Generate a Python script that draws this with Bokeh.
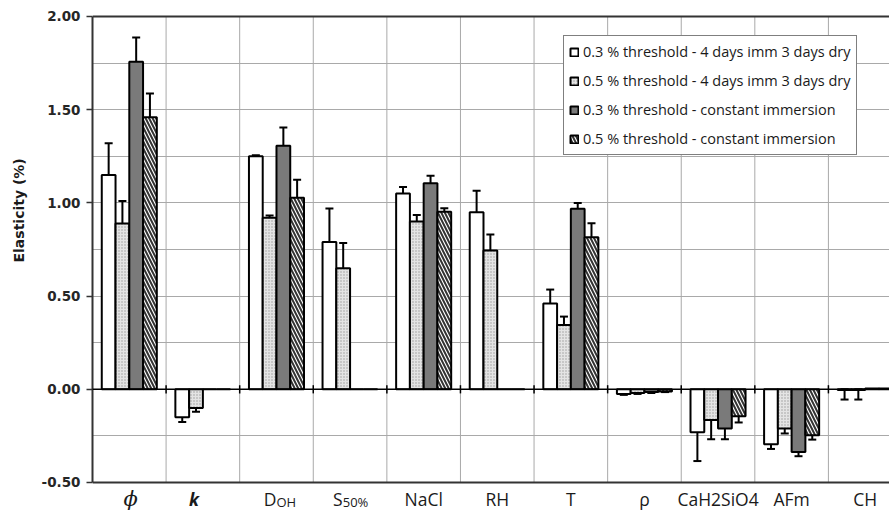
import math
import numpy as np
from bokeh.plotting import figure
from bokeh.models import (ColumnDataSource, Range1d, FixedTicker, Whisker, TeeHead,
                          Legend, LegendItem, Label, Span, NumeralTickFormatter, Title)
from bokeh.embed import file_html
from bokeh.resources import INLINE

NaN = float("nan")

# ---- data ----
cat_main = ["ϕ", "k", "D", "S", "NaCl", "RH", "T", "ρ", "CaH2SiO4", "AFm", "CH"]
cat_sub = ["", "", "OH", "50%", "", "", "", "", "", "", ""]

series_names = [
    "0.3 % threshold - 4 days imm 3 days dry",
    "0.5 % threshold - 4 days imm 3 days dry",
    "0.3 % threshold - constant immersion",
    "0.5 % threshold - constant immersion",
]

s1_val = [1.15, -0.15, 1.25, 0.79, 1.05, 0.95, 0.46, -0.025, -0.23, -0.295, -0.004]
s1_lo = [1.04, -0.175, 1.245, 0.535, 0.945, 0.785, 0.40, -0.03, -0.385, -0.32, -0.055]
s1_hi = [1.32, -0.12, 1.255, 0.97, 1.085, 1.065, 0.535, -0.02, -0.22, -0.265, 0.0]

s2_val = [0.89, -0.10, 0.92, 0.65, 0.90, 0.745, 0.345, -0.02, -0.165, -0.21, -0.004]
s2_lo = [0.815, -0.12, 0.905, 0.44, 0.80, 0.625, 0.29, -0.025, -0.268, -0.237, -0.055]
s2_hi = [1.01, -0.07, 0.932, 0.785, 0.935, 0.83, 0.39, -0.015, -0.148, -0.166, 0.0]

s3_val = [1.757, 0.0, 1.307, 0.0, 1.105, 0.0, 0.968, -0.015, -0.21, -0.336, 0.004]
s3_lo = [1.605, NaN, 1.19, NaN, 1.062, NaN, 0.864, -0.02, -0.268, -0.359, NaN]
s3_hi = [1.887, NaN, 1.405, NaN, 1.146, NaN, 1.0, -0.01, -0.063, -0.273, NaN]

s4_val = [1.459, 0.0, 1.027, 0.0, 0.953, 0.0, 0.816, -0.012, -0.144, -0.246, 0.004]
s4_lo = [1.312, NaN, 0.902, NaN, 0.914, NaN, 0.686, -0.015, -0.178, -0.27, NaN]
s4_hi = [1.587, NaN, 1.124, NaN, 0.971, NaN, 0.891, -0.008, -0.02, -0.184, NaN]

y_ticks = [-0.5, 0.0, 0.5, 1.0, 1.5, 2.0]
y_min, y_max = -0.5, 2.0

vals = [s1_val, s2_val, s3_val, s4_val]
los = [s1_lo, s2_lo, s3_lo, s4_lo]
his = [s1_hi, s2_hi, s3_hi, s4_hi]

# ---- figure ----
n = len(cat_main)
p = figure(width=889, height=512, x_range=Range1d(0, 10.83), y_range=Range1d(-0.661, 2.0107),
           output_backend="svg", toolbar_location=None,
           min_border_left=92, min_border_right=0, min_border_top=14, min_border_bottom=0,
           background_fill_color="white", border_fill_color="white",
           outline_line_color=None)

p.xaxis.visible = False
p.xgrid.visible = False
p.ygrid.ticker = FixedTicker(ticks=[y_min + 0.25 * i for i in range(11)])
p.ygrid.grid_line_color = "#a9a9a9"
p.ygrid.grid_line_width = 1

# vertical grid lines between categories (limited to the value range)
bounds = list(range(1, n))
p.segment(x0=bounds, y0=[y_min] * len(bounds), x1=bounds, y1=[y_max] * len(bounds),
          line_color="#a9a9a9", line_width=1)

p.yaxis.bounds = (y_min, y_max)
p.yaxis.ticker = FixedTicker(ticks=y_ticks)
p.yaxis.formatter = NumeralTickFormatter(format="0.00")
p.yaxis.minor_tick_line_color = None
p.yaxis.major_tick_in = 0
p.yaxis.major_tick_out = 6
p.yaxis.major_tick_line_color = "#333333"
p.yaxis.major_tick_line_width = 1.5
p.yaxis.axis_line_color = "#333333"
p.yaxis.axis_line_width = 2
p.yaxis.major_label_text_font = "DejaVu Sans"
p.yaxis.major_label_text_font_style = "bold"
p.yaxis.major_label_text_font_size = "13.5px"
p.yaxis.major_label_text_color = "#262626"
p.yaxis.major_label_standoff = 6

# y-axis title (in the left panel, positioned like the original)
p.add_layout(Title(text="Elasticity (%)", align="left", offset=250, standoff=20,
                   vertical_align="top",
                   text_font="DejaVu Sans", text_font_style="bold", text_font_size="14px",
                   text_color="#1a1a1a"), "left")

xc = np.arange(n) + 0.5
bw = 0.187
offs = [-1.5, -0.5, 0.5, 1.5]
styles = [
    dict(fill_color="white"),
    dict(fill_color="#e4e4e4", hatch_pattern="dot", hatch_scale=3, hatch_weight=1, hatch_color="#9a9a9a"),
    dict(fill_color="#7a7a7a"),
    dict(fill_color="white", hatch_pattern="left_diagonal_line", hatch_scale=7, hatch_weight=2,
         hatch_color="#333333"),
]

renderers = []
for k in range(4):
    src = ColumnDataSource(dict(x=xc + offs[k] * bw, top=vals[k], lo=los[k], hi=his[k]))
    r = p.vbar(x="x", top="top", bottom=0, width=bw, source=src,
               line_color="black", line_width=2, **styles[k])
    renderers.append(r)
    p.add_layout(Whisker(source=src, base="x", lower="lo", upper="hi",
                         line_color="black", line_width=2,
                         upper_head=TeeHead(size=8, line_width=2, line_color="black"),
                         lower_head=TeeHead(size=8, line_width=2, line_color="black")))

# zero line with category ticks, plot borders
p.add_layout(Span(location=0, dimension="width", line_color="black", line_width=1.5))
p.add_layout(Span(location=y_min, dimension="width", line_color="#333333", line_width=2))
p.add_layout(Span(location=y_max, dimension="width", line_color="#333333", line_width=2))
p.segment(x0=bounds, y0=[-0.022] * len(bounds), x1=bounds, y1=[0.022] * len(bounds),
          line_color="black", line_width=1.5)

# category labels
base_y = -0.586
sub_y = -0.607
for i in range(n):
    c = i + 0.5
    if cat_sub[i]:
        shift = 0.0 if cat_main[i] == "D" else -0.1
        p.add_layout(Label(x=c + shift, y=base_y, text=cat_main[i], text_align="right",
                           text_baseline="middle", text_font="Open Sans",
                           text_font_size="17.5px", text_color="#1a1a1a"))
        p.add_layout(Label(x=c + shift, y=sub_y, text=cat_sub[i], text_align="left",
                           text_baseline="middle", text_font="Open Sans",
                           text_font_size="13px", text_color="#1a1a1a"))
    elif cat_main[i] == "ϕ":
        p.add_layout(Label(x=c + 0.02, y=base_y, text=cat_main[i], text_align="center",
                           text_baseline="middle", text_font="DejaVu Serif",
                           text_font_style="italic", text_font_size="21px", text_color="#1a1a1a"))
    elif cat_main[i] == "k":
        p.add_layout(Label(x=c - 0.12, y=base_y, text=cat_main[i], text_align="center",
                           text_baseline="middle", text_font="Open Sans",
                           text_font_style="bold italic", text_font_size="17.5px", text_color="#1a1a1a"))
    else:
        p.add_layout(Label(x=c, y=base_y, text=cat_main[i], text_align="center",
                           text_baseline="middle", text_font="Open Sans",
                           text_font_size="17.5px", text_color="#1a1a1a"))

legend = Legend(items=[LegendItem(label=series_names[k], renderers=[renderers[k]]) for k in range(4)],
                location=(471, 357), glyph_width=10, glyph_height=10, label_standoff=4,
                padding=5, spacing=8, label_height=21, margin=0,
                label_text_font="Open Sans", label_text_font_size="14.5px",
                label_text_color="#1a1a1a", border_line_color="black", border_line_width=1.5,
                background_fill_color="white", background_fill_alpha=1.0)
p.add_layout(legend, "center")

open("out.html", "w").write(file_html(p, INLINE))
